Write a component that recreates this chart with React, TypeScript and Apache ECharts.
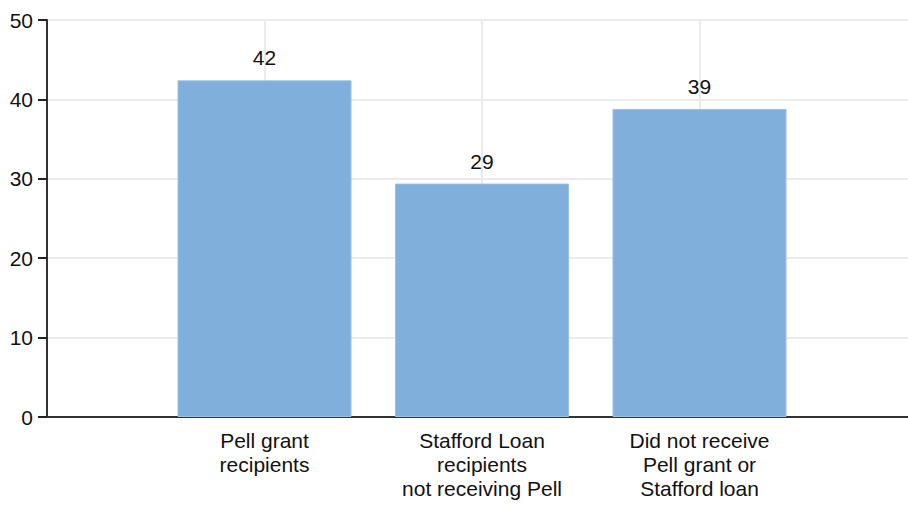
import React, { useEffect, useRef } from "react";
import * as echarts from "echarts";

const categories = [
  "",
  "Pell grant\nrecipients",
  "Stafford Loan\nrecipients\nnot receiving Pell",
  "Did not receive\nPell grant or\nStafford loan",
  "",
];
const values: (number | null)[] = [null, 42.4, 29.4, 38.8, null];
const yTicks = [0, 10, 20, 30, 40, 50];

const FONT = "Liberation Sans";

export default function App() {
  const ref = useRef<HTMLDivElement>(null);
  useEffect(() => {
    if (!ref.current) return;
    const chart = echarts.init(ref.current, undefined, { renderer: "svg" });
    chart.setOption({
      animation: false,
      backgroundColor: "#ffffff",
      grid: {
        left: 47,
        top: 20,
        width: 870,
        height: 397,
        containLabel: false,
        outerBoundsMode: "none",
      },
      xAxis: {
        type: "category",
        data: categories,
        boundaryGap: false,
        axisLine: { show: true, lineStyle: { color: "#333333", width: 2 } },
        axisTick: { show: false },
        axisLabel: {
          interval: 0,
          color: "#111111",
          fontFamily: FONT,
          fontSize: 21,
          lineHeight: 24,
          margin: 11,
        },
        splitLine: { show: true, interval: 0, lineStyle: { color: "#ebebeb", width: 2 } },
      },
      yAxis: {
        type: "value",
        min: yTicks[0],
        max: yTicks[yTicks.length - 1],
        interval: 10,
        axisLine: { show: true, lineStyle: { color: "#333333", width: 2 } },
        axisTick: { show: true, inside: false, length: 9, lineStyle: { color: "#222222", width: 2 } },
        axisLabel: { color: "#111111", fontFamily: FONT, fontSize: 21, margin: 14 },
        splitLine: { show: true, lineStyle: { color: "#ebebeb", width: 2 } },
      },
      series: [
        {
          type: "bar",
          data: values,
          barWidth: 174,
          itemStyle: { color: "#80afdb", borderColor: "#9ac0e3", borderWidth: 1 },
          label: {
            show: true,
            position: "top",
            distance: 12,
            color: "#111111",
            fontFamily: FONT,
            fontSize: 21,
            formatter: (p: any) => String(Math.round(p.value)),
          },
        },
      ],
    });
    return () => chart.dispose();
  }, []);
  return <div ref={ref} style={{ width: 908, height: 506, position: "absolute", left: 0, top: 0 }} />;
}
